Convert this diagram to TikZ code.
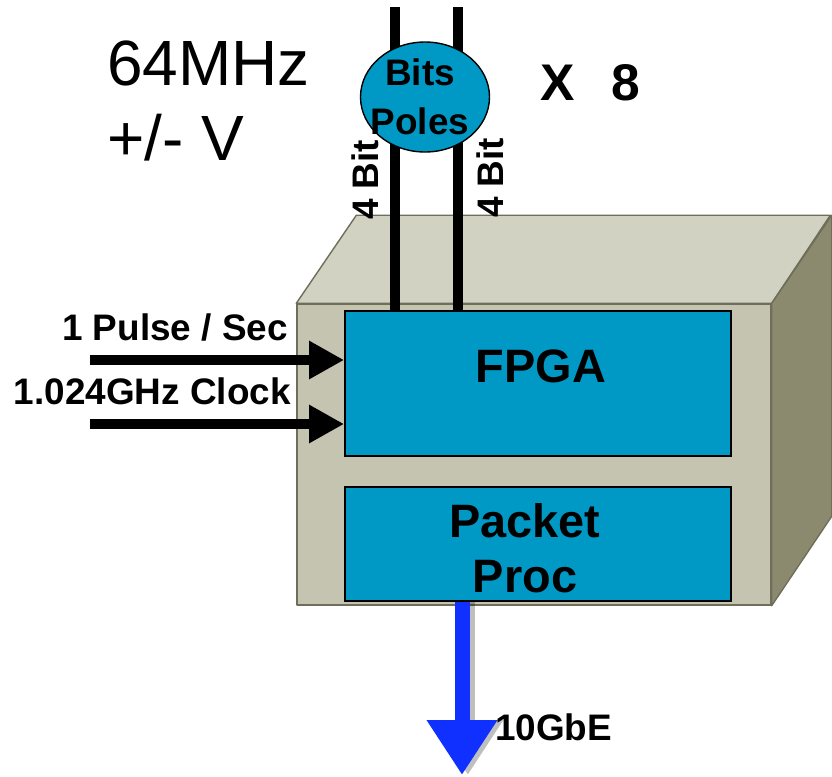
\documentclass[tikz,border=0pt]{standalone}
\usepackage{fontspec}
\setmainfont{Liberation Sans}
\usepackage{xcolor}
\definecolor{fpgablue}{RGB}{0,153,198}
\definecolor{gbeblue}{RGB}{16,48,255}
\definecolor{cfront}{RGB}{197,196,176}
\definecolor{ctop}{RGB}{210,210,195}
\definecolor{cside}{RGB}{140,138,110}
\definecolor{cedge}{RGB}{110,110,90}
\usetikzlibrary{arrows.meta,shapes.geometric,positioning}

\begin{document}
\begin{tikzpicture}[
  x=0.03cm, y=-0.03cm,
  face/.style={draw=cedge,line width=1.2pt,line join=round},
  blk/.style={rectangle,draw=black,line width=1.5pt,fill=fpgablue,minimum width=11.58cm,inner sep=0pt},
  big/.style={font=\fontsize{40}{47}\selectfont\bfseries,inner sep=0pt,align=center},
  thin/.style={font=\fontsize{54.6}{60}\selectfont,inner sep=0pt},
  lbl/.style={font=\fontsize{31.5}{36}\selectfont\bfseries,inner sep=0pt},
  wire/.style={line width=7.7pt,black},
  inarrow/.style={line width=7.7pt,-{Triangle[length=1.05cm,width=1.08cm]}},
  gbearrow/.style={line width=12.8pt,gbeblue,-{Triangle[length=1.65cm,width=2.01cm]}}
]
  \useasboundingbox (0,0) rectangle (832,776);
  \clip (0,0) rectangle (832,776);

  % Chassis
  \node[rectangle,face,fill=cfront,minimum width=14.22cm,minimum height=9.03cm] (chassis) at (534,454.5) {};
  \draw[face,fill=ctop] (chassis.north west) -- ++(60,-88) -- ++(474,0) -- (chassis.north east) -- cycle;
  \draw[face,fill=cside] (chassis.north east) -- ++(60,-88) -- ++(0,301) -- (chassis.south east) -- cycle;

  % Blocks
  \node[blk,minimum height=4.35cm] (fpga) at (538,383.5) {};
  \node[blk,minimum height=3.42cm] (pkt) at (538,544) {};
  \node[big,anchor=base] (fpgatxt) at (541,382) {FPGA};
  \node[big] (pkttxt) at (525,548) {Packet\\Proc};

  % Bit lines
  \coordinate (w1) at (395,7);
  \coordinate (w2) at (458,7);
  \draw[wire] (w1) -- (w1 |- fpga.north);
  \draw[wire] (w2) -- (w2 |- fpga.north);
  \node[ellipse,draw=black,line width=1.2pt,fill=fpgablue,minimum width=3.87cm,minimum height=3.3cm,inner sep=0pt] (bits) at (425,97) {};
  \node[font=\fontsize{31.5}{42}\selectfont\bfseries,align=center,inner sep=0pt] (bitstxt) at (420,97) {Bits\\Poles};
  \node[lbl,rotate=90] (bitl) at (365,180) {4 Bit};
  \node[lbl,rotate=90] (bitr) at (490,178) {4 Bit};

  % Inputs
  \coordinate (pps) at (90,360);
  \coordinate (clk) at (90,424);
  \draw[inarrow] (pps) -- (pps -| fpga.west);
  \draw[inarrow] (clk) -- (clk -| fpga.west);
  \node[lbl,anchor=base east] (ppstxt) at (288,340) {1 Pulse / Sec};
  \node[lbl,anchor=base east] (clktxt) at (291,404) {1.024GHz Clock};

  % Output
  \coordinate (gbe) at (462,775);
  \draw[gbearrow,black,opacity=0.25] ([xshift=5]pkt.south -| gbe) -- ([xshift=5]gbe);
  \draw[gbearrow] (pkt.south -| gbe) -- (gbe);
  \node[lbl,anchor=base west] (gbetxt) at (495,740) {10GbE};

  % Labels
  \node[thin,anchor=base west] (freq) at (107,85) {64MHz};
  \node[thin,anchor=base west] (volt) at (107,160) {+/- V};
  \node[font=\fontsize{44}{48}\selectfont\bfseries,inner sep=0pt,anchor=base west] (mult) at (540,100) {X\ \ \,8};
\end{tikzpicture}
\end{document}
